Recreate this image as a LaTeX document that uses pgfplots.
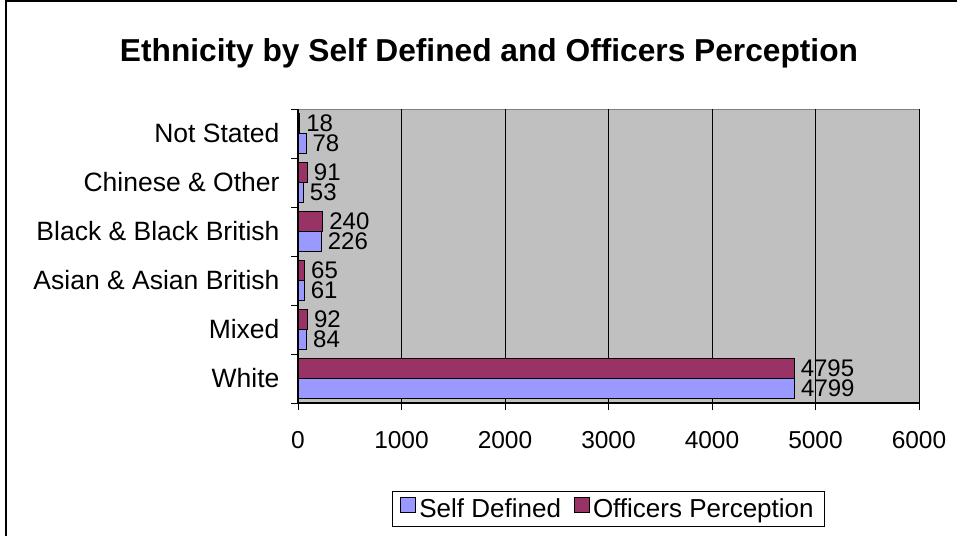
\documentclass[border=0pt]{standalone}
\usepackage{fontspec}
\setmainfont{Liberation Sans}
\usepackage{pgfplots}
\pgfplotsset{compat=1.18}
\definecolor{selfc}{HTML}{9999FF}
\definecolor{offc}{HTML}{993366}
\definecolor{bgc}{HTML}{C0C0C0}
\begin{document}
\begin{tikzpicture}[x=1pt,y=1pt]
\useasboundingbox (0,0) rectangle (957,536);
\draw[line width=1.3pt] (6,0) -- (6,535) -- (957,535);
\node[font=\fontsize{31.7}{36}\selectfont\bfseries] at (489,483) {Ethnicity by Self Defined and Officers Perception};
\begin{axis}[
  at={(298pt,133pt)}, anchor=south west,
  width=621pt, height=294pt, scale only axis,
  xmin=0, xmax=6000, ymin=-0.5, ymax=5.5,
  axis background/.style={fill=bgc, draw=gray},
  axis x line*=bottom, axis y line*=left,
  axis line style={black, line width=1.2pt},
  xbar, bar width=20pt,
  xtick={0,1000,...,6000},
  xticklabel style={font=\fontsize{24.5}{28}\selectfont, yshift=-18pt},
  /pgf/number format/assume math mode=true,
  /pgf/number format/1000 sep={},
  xmajorgrids, grid style={black, line width=0.9pt},
  ytick={0,...,5},
  yticklabels={White, Mixed, Asian \& Asian British, Black \& Black British, Chinese \& Other, Not Stated},
  yticklabel style={font=\fontsize{26.5}{30}\selectfont, xshift=-8pt},
  major y tick style={draw=none},
  minor ytick={-0.5,0.5,...,5.5},
  tick align=outside,
  major tick length=7pt, minor tick length=7pt,
  tick style={black, line width=0.9pt},
  nodes near coords,
  every node near coord/.append style={font=\fontsize{24}{27}\selectfont, black, inner xsep=6pt, inner ysep=0pt},
  legend image code/.code={\draw[#1, draw=black, line width=1pt] (0pt,-4pt) rectangle (15pt,11pt);},
  legend style={at={(0.5,-0.36)}, anchor=center, legend columns=2, draw=black, line width=0.8pt,
    font=\fontsize{26}{30}\selectfont, inner xsep=8pt, inner ysep=5pt,
    nodes={inner xsep=3pt},
    /tikz/every even column/.append style={column sep=10pt}},
]
\addplot[fill=selfc, draw=black, line width=1pt, bar shift=-10pt] coordinates {(4799,0) (84,1) (61,2) (226,3) (53,4) (78,5)};
\addplot[fill=offc, draw=black, line width=1pt, bar shift=10pt] coordinates {(4795,0) (92,1) (65,2) (240,3) (91,4) (18,5)};
\legend{Self Defined, Officers Perception}
\end{axis}
\end{tikzpicture}
\end{document}
